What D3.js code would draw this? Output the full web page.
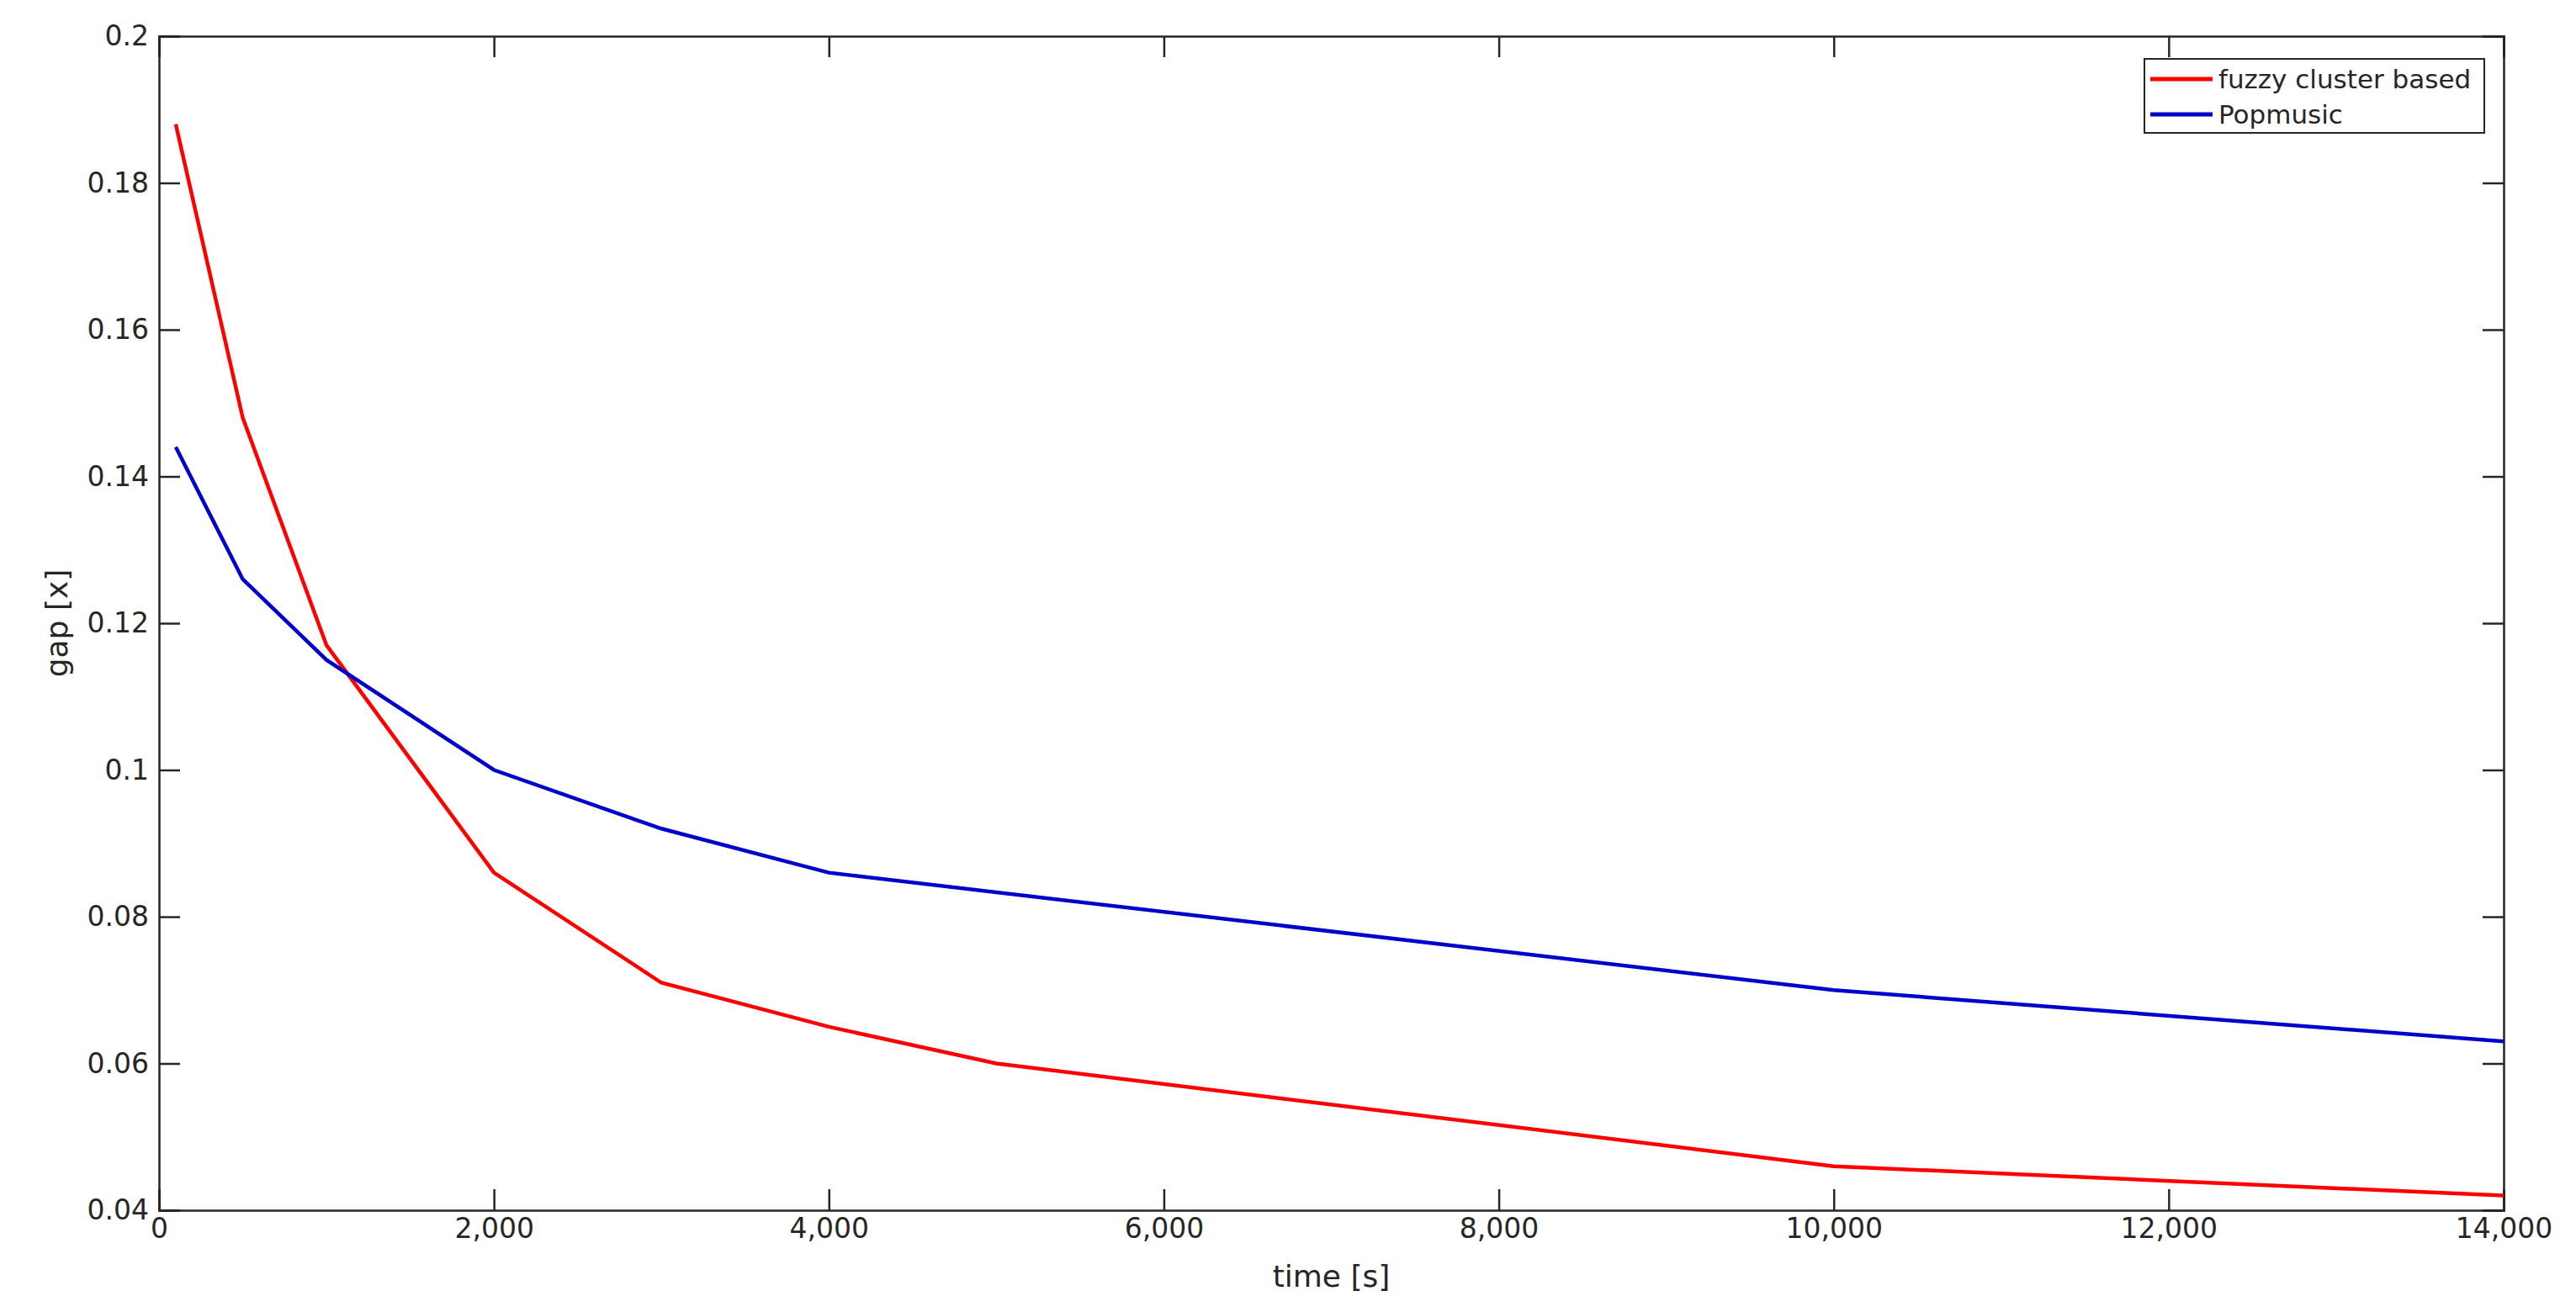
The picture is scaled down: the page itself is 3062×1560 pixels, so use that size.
<!DOCTYPE html>
<html><head><meta charset="utf-8">
<script src="https://cdn.jsdelivr.net/npm/d3@7"></script>
<style>body{margin:0;background:#fff}text{font-family:"DejaVu Sans",sans-serif;fill:#262626}</style>
</head><body><div id="chart"></div>
<script>
const timeFuzzy = [100, 500, 1000, 2000, 3000, 4000, 5000, 10000, 14000];
const gapFuzzy = [0.188, 0.148, 0.117, 0.086, 0.071, 0.065, 0.060, 0.046, 0.042];
const timePop = [100, 500, 1000, 2000, 3000, 4000, 10000, 14000];
const gapPop = [0.144, 0.126, 0.115, 0.100, 0.092, 0.086, 0.070, 0.063];
const xTicks = [0, 2000, 4000, 6000, 8000, 10000, 12000, 14000];
const yTicks = [0.04, 0.06, 0.08, 0.1, 0.12, 0.14, 0.16, 0.18, 0.2];
const series = [
  {name: "fuzzy cluster based", color: "#ff0000", t: timeFuzzy, g: gapFuzzy},
  {name: "Popmusic", color: "#0000cc", t: timePop, g: gapPop}
];

const W = 3062, H = 1560;
const m = {left: 189, right: W - 2976, top: 43, bottom: H - 1439};
const svg = d3.select("#chart").append("svg").attr("width", W).attr("height", H);
const x = d3.scaleLinear().domain([0, 14000]).range([m.left, W - m.right]);
const y = d3.scaleLinear().domain([0.04, 0.2]).range([H - m.bottom, m.top]);
const fs = 33, tl = 25;

const g = svg.append("g");
g.append("g").attr("transform", `translate(0,${y(0.04)})`)
  .call(d3.axisBottom(x).tickValues(xTicks).tickSize(-tl).tickPadding(10).tickFormat(d3.format(",")));
g.append("g").attr("transform", `translate(0,${y(0.2)})`)
  .call(d3.axisTop(x).tickValues(xTicks).tickSize(-tl).tickFormat(""));
g.append("g").attr("transform", `translate(${x(0)},0)`)
  .call(d3.axisLeft(y).tickValues(yTicks).tickSize(-tl).tickPadding(12).tickFormat(d => String(+d.toFixed(2))));
g.append("g").attr("transform", `translate(${x(14000)},0)`)
  .call(d3.axisRight(y).tickValues(yTicks).tickSize(-tl).tickFormat(""));
g.selectAll(".domain, .tick line").attr("stroke", "#262626").attr("stroke-width", 2.5);
g.selectAll(".tick text").attr("font-size", fs).attr("fill", "#262626");

const line = d3.line().x(d => x(d[0])).y(d => y(d[1]));
series.forEach(s => {
  svg.append("path").datum(d3.zip(s.t, s.g)).attr("d", line)
    .attr("fill", "none").attr("stroke", s.color).attr("stroke-width", 4.5);
});

svg.append("text").attr("x", x(7000)).attr("y", 1530).attr("text-anchor", "middle")
  .attr("font-size", 36).text("time [s]");
svg.append("text").attr("transform", `translate(80,${y(0.12)}) rotate(-90)`)
  .attr("text-anchor", "middle").attr("font-size", 36).text("gap [x]");

const lg = svg.append("g").attr("transform", "translate(2549,70)");
lg.append("rect").attr("width", 404).attr("height", 88).attr("fill", "#fff")
  .attr("stroke", "#262626").attr("stroke-width", 2);
series.forEach((s, i) => {
  const yy = 24 + i * 42;
  lg.append("line").attr("x1", 7).attr("x2", 81).attr("y1", yy).attr("y2", yy)
    .attr("stroke", s.color).attr("stroke-width", 5);
  lg.append("text").attr("x", 88).attr("y", yy + 11).attr("font-size", 31).text(s.name);
});
</script></body></html>
